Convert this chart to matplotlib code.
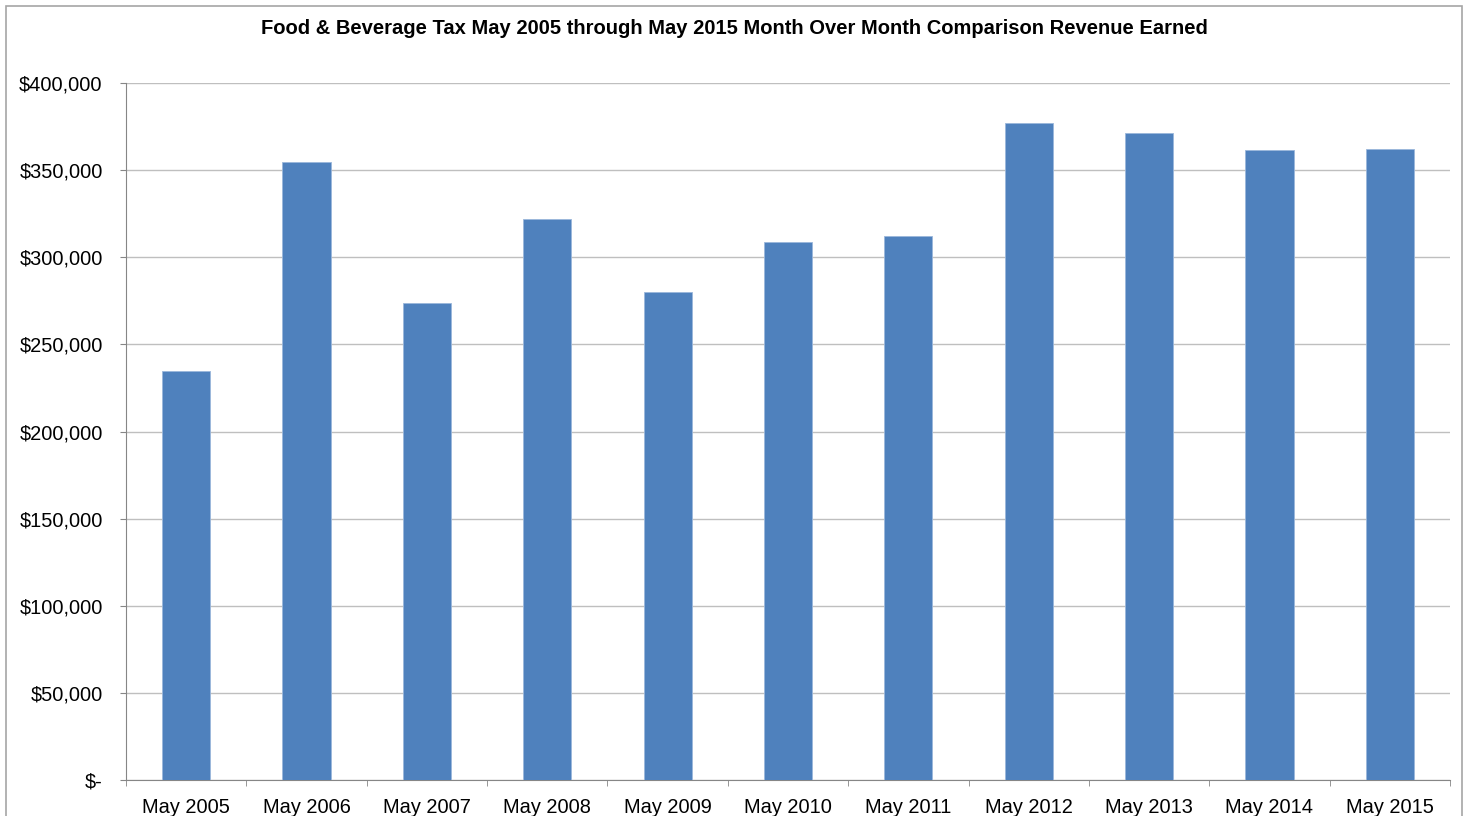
import matplotlib.pyplot as plt
from matplotlib.patches import Rectangle
from matplotlib.ticker import FuncFormatter

plt.rcParams['font.family'] = ['Liberation Sans', 'DejaVu Sans']

# Data
months = ['May 2005', 'May 2006', 'May 2007', 'May 2008', 'May 2009', 'May 2010',
          'May 2011', 'May 2012', 'May 2013', 'May 2014', 'May 2015']
revenue = [234700, 354700, 273700, 322000, 280100, 308800,
           312200, 377000, 371300, 361500, 362100]

fig = plt.figure(figsize=(14.65, 8.16), dpi=100)
ax = fig.add_axes([126 / 1465, 1 - 780 / 816, (1450 - 126) / 1465, (780 - 83) / 816])

# chart frame
fig.patches.append(Rectangle((6 / 1465, -0.01), (1462 - 6) / 1465, 1 - 6 / 816 + 0.01,
                             transform=fig.transFigure, fill=False,
                             edgecolor='#a6a6a6', linewidth=1.2))

x = range(len(months))
ax.bar(x, revenue, width=0.4, color='#4f81bd', edgecolor='#9bb7db', linewidth=0.6, zorder=3)

ax.set_xlim(-0.5, len(months) - 0.5)
ax.set_ylim(0, 400000)
ax.set_yticks(range(0, 400001, 50000))


def money(v, pos):
    if v == 0:
        return '$-'
    return '${:,.0f}'.format(v)


ax.yaxis.set_major_formatter(FuncFormatter(money))
ax.grid(axis='y', color='#bfbfbf', linewidth=1, zorder=0)

ax.set_xticks([i - 0.5 for i in range(len(months) + 1)], minor=True)
ax.set_xticks(list(x))
ax.set_xticklabels(months)
ax.tick_params(axis='x', which='major', length=0, labelsize=14.4, pad=13)
ax.tick_params(axis='x', which='minor', length=4.3, color='#868686')
ax.tick_params(axis='y', length=4.3, color='#868686', labelsize=14.4, pad=12.5)

for side in ['top', 'right']:
    ax.spines[side].set_visible(False)
ax.spines['left'].set_color('#868686')
ax.spines['bottom'].set_color('#868686')

fig.text(734 / 1465, 1 - 29 / 816,
         'Food & Beverage Tax May 2005 through May 2015 Month Over Month Comparison Revenue Earned',
         ha='center', va='center', fontsize=14.5, fontweight='bold')

fig.savefig('out.png', dpi=100)
